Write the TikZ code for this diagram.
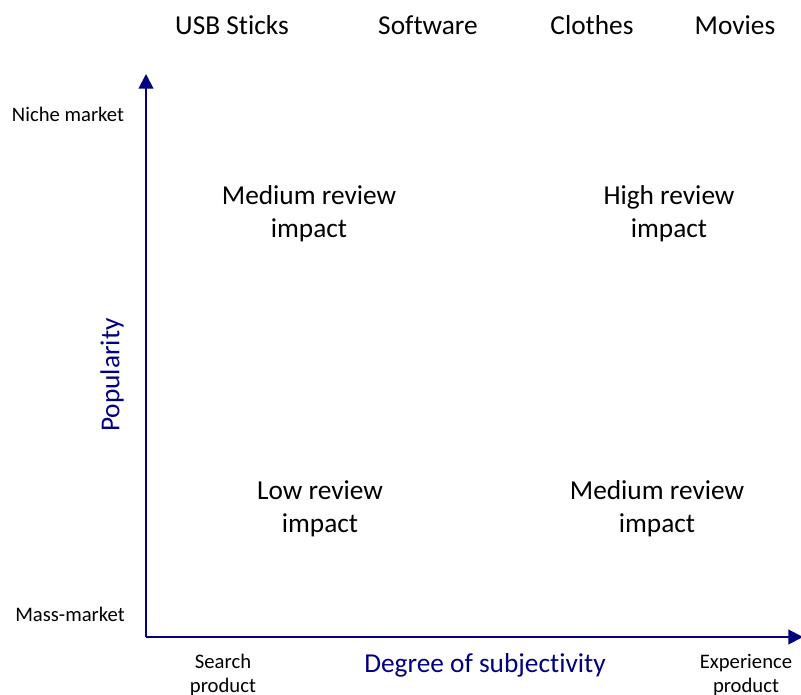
\documentclass[tikz,border=0pt]{standalone}
\usepackage{fontspec}
\setmainfont{Carlito}[Ligatures={NoCommon}]
\usetikzlibrary{arrows.meta}
\definecolor{axisblue}{RGB}{0,0,128}
\tikzset{
    big/.style={font=\fontsize{20.5}{24.6}\selectfont, align=center},
    small/.style={font=\fontsize{15.5}{18.2}\selectfont, align=center},
    axis/.style={-{Triangle[length=11pt,width=11pt]}, axisblue, line width=1.5pt}
}
\begin{document}
\begin{tikzpicture}[x=0.75pt, y=-0.75pt]
    \useasboundingbox (0,0) rectangle (801,695);
    % axes
    \coordinate (origin) at (146,637);
    \coordinate (ytip) at (146,74);
    \coordinate (xtip) at (803,637);
    \draw[axis] (origin) -- (ytip);
    \draw[axis] (origin) -- (xtip);
    % axis titles
    \node[big, text=axisblue, rotate=90] (ytitle) at (112,375) {Popularity};
    \node[big, text=axisblue] (xtitle) at (485,665) {Degree of subjectivity};
    % axis ends
    \node[small] (niche) at (68,114) {Niche market};
    \node[small] (mass) at (70,614) {Mass-market};
    \node[small] (search) at (223,675) {Search\\product};
    \node[small] (experience) at (746,675) {Experience\\product};
    % product examples
    \node[big] (usb) at (232,25) {USB Sticks};
    \node[big] (software) at (428,25) {Software};
    \node[big] (clothes) at (592,25) {Clothes};
    \node[big] (movies) at (735,25) {Movies};
    % quadrants
    \node[big] (topleft) at (309,214) {Medium review\\impact};
    \node[big] (topright) at (669,214) {High review\\impact};
    \node[big] (bottomleft) at (320,509) {Low review\\impact};
    \node[big] (bottomright) at (657,509) {Medium review\\impact};
\end{tikzpicture}
\end{document}
